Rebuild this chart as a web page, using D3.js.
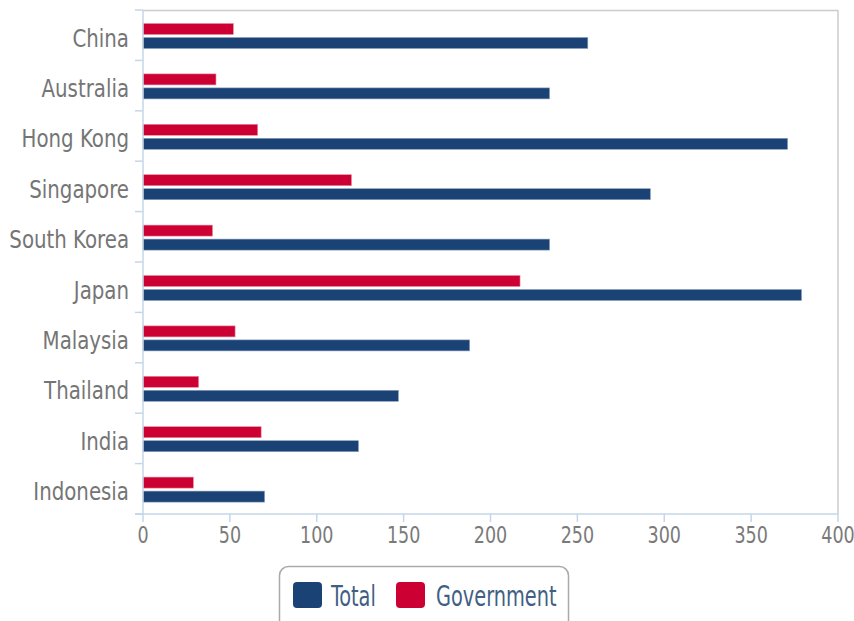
<!DOCTYPE html>
<html><head><meta charset="utf-8">
<script src="https://cdn.jsdelivr.net/npm/d3@7/dist/d3.min.js"></script>
<style>body{margin:0;background:#fff;}svg{display:block;font-family:"DejaVu Sans Condensed","DejaVu Sans",sans-serif;}</style>
</head><body><svg id="c" width="854" height="621"></svg>
<script>
const categories = ["China","Australia","Hong Kong","Singapore","South Korea","Japan","Malaysia","Thailand","India","Indonesia"];
const totalValues = [256,234,371,292,234,379,188,147,124,70];
const governmentValues = [52,42,66,120,40,217,53,32,68,29];
const xTicks = [0,50,100,150,200,250,300,350,400];
const seriesNames = ["Total","Government"];
const colors = {Total:"#1a4275", Government:"#cc0033"};

const svg = d3.select("#c");
const L=143, R=838, T=10, B=514;
const x = d3.scaleLinear().domain([0,400]).range([L,R]);
const y = d3.scaleBand().domain(categories).range([T,B]);

// plot border top/right
svg.append("line").attr("x1",L).attr("x2",R).attr("y1",T+0.5).attr("y2",T+0.5).attr("stroke","#cccccc").attr("stroke-width",1.5);
svg.append("line").attr("x1",R).attr("x2",R).attr("y1",T).attr("y2",B).attr("stroke","#cccccc").attr("stroke-width",1.5);

// bars
const g = svg.append("g");
categories.forEach((c,i)=>{
  const y0 = y(c);
  g.append("rect").attr("x",x(0)).attr("y",y0+13.5).attr("width",x(governmentValues[i])-x(0)).attr("height",11)
    .attr("fill",colors.Government).attr("stroke","#e88aa0").attr("stroke-width",0.6);
  g.append("rect").attr("x",x(0)).attr("y",y0+27.5).attr("width",x(totalValues[i])-x(0)).attr("height",11)
    .attr("fill",colors.Total).attr("stroke","#8aa0bd").attr("stroke-width",0.6);
});

// left axis
const axisColor="#c5d6e8";
svg.append("line").attr("x1",L).attr("x2",L).attr("y1",T).attr("y2",B).attr("stroke",axisColor).attr("stroke-width",1.5);
const bounds = categories.map(c=>y(c)).concat([B]);
bounds.forEach(b=>{
  svg.append("line").attr("x1",L-8).attr("x2",L).attr("y1",b).attr("y2",b).attr("stroke",axisColor).attr("stroke-width",1.5);
});
categories.forEach(c=>{
  const cy = y(c)+y.bandwidth()/2+3;
  svg.append("text").attr("transform",`translate(129,${cy}) scale(1,1.1)`)
    .attr("text-anchor","end").attr("dominant-baseline","central")
    .attr("font-size",22).attr("fill","#757575").text(c);
});

// bottom axis
svg.append("line").attr("x1",L-8).attr("x2",R).attr("y1",B).attr("y2",B).attr("stroke",axisColor).attr("stroke-width",1.5);
xTicks.forEach(t=>{
  svg.append("line").attr("x1",x(t)).attr("x2",x(t)).attr("y1",B).attr("y2",B+8).attr("stroke",axisColor).attr("stroke-width",1.5);
  svg.append("text").attr("transform",`translate(${x(t)},${543}) scale(1,1.15)`)
    .attr("text-anchor","middle").attr("font-size",19.5).attr("fill","#7a7a7a").text(t);
});

// legend
svg.append("rect").attr("x",279.5).attr("y",566.5).attr("width",289).attr("height",70).attr("rx",9)
  .attr("fill","#fff").attr("stroke","#aaaaaa").attr("stroke-width",1.5);
const leg = [{n:"Total",sx:293,tx:331},{n:"Government",sx:396,tx:436}];
leg.forEach(d=>{
  svg.append("rect").attr("x",d.sx).attr("y",582).attr("width",29).attr("height",26).attr("rx",4).attr("fill",colors[d.n]);
  svg.append("text").attr("transform",`translate(${d.tx},${606}) scale(1,1.3)`)
    .attr("font-size",21.5).attr("fill","#3f5f85").text(d.n);
});
</script></body></html>
